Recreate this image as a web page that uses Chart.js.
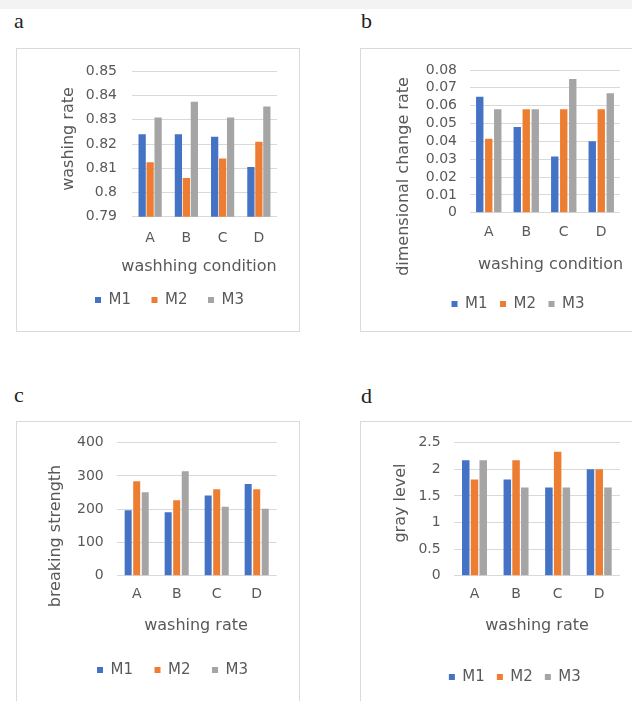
<!DOCTYPE html>
<html>
<head>
<meta charset="utf-8">
<script src="https://cdn.jsdelivr.net/npm/chart.js@4.4.0/dist/chart.umd.min.js"></script>
<style>
html, body { margin: 0; padding: 0; background: #fff; overflow: hidden; width: 632px; height: 701px; }
#strip { position: absolute; left: 0; top: 0; width: 632px; height: 9px; background: #f3f3f3; }
.frame { position: absolute; border: 1px solid #d9d9d9; box-sizing: border-box; }
.tag { position: absolute; font-family: "Liberation Serif", serif; font-size: 22px; line-height: 22px; color: #222; }
canvas { position: absolute; }
</style>
</head>
<body>
<div id="strip"></div>
<div class="tag" style="left:14px;top:10px">a</div>
<div class="tag" style="left:361px;top:10px">b</div>
<div class="tag" style="left:14px;top:384px">c</div>
<div class="tag" style="left:361px;top:385px">d</div>
<div class="frame" style="left:16px;top:48px;width:284px;height:284px"></div>
<div class="frame" style="left:360px;top:48px;width:320px;height:284px"></div>
<div class="frame" style="left:16px;top:421px;width:284px;height:300px"></div>
<div class="frame" style="left:360px;top:421px;width:320px;height:300px"></div>
<canvas id="chartA"></canvas>
<canvas id="chartB"></canvas>
<canvas id="chartC"></canvas>
<canvas id="chartD"></canvas>
<script>
var categories = ['A', 'B', 'C', 'D'];
var seriesNames = ['M1', 'M2', 'M3'];
var seriesColors = ['#4472C4', '#ED7D31', '#A5A5A5'];

// a - washing rate
var rateM1 = [0.824, 0.824, 0.823, 0.8105];
var rateM2 = [0.8125, 0.806, 0.814, 0.821];
var rateM3 = [0.831, 0.8375, 0.831, 0.8355];
var rateAxis = [0.79, 0.85, 0.01]; // min, max, step

// b - dimensional change rate
var dimM1 = [0.065, 0.048, 0.0315, 0.040];
var dimM2 = [0.0415, 0.058, 0.058, 0.058];
var dimM3 = [0.058, 0.058, 0.075, 0.067];
var dimAxis = [0, 0.08, 0.01];

// c - breaking strength
var strengthM1 = [197, 191, 241, 276];
var strengthM2 = [284, 227, 260, 260];
var strengthM3 = [251, 314, 207, 201];
var strengthAxis = [0, 400, 100];

// d - gray level
var grayM1 = [2.17, 1.81, 1.66, 2.0];
var grayM2 = [1.81, 2.17, 2.33, 2.0];
var grayM3 = [2.17, 1.66, 1.66, 1.66];
var grayAxis = [0, 2.5, 0.5];

var textColor = '#595959';
var fontFamily = '"DejaVu Sans", sans-serif';
Chart.defaults.font.family = fontFamily;

// axis titles are drawn at fixed spots, like the excel charts
var axisTitles = {
	id: 'axisTitles',
	afterDraw: function(chart, args, o) {
		var ctx = chart.ctx;
		ctx.save();
		ctx.fillStyle = textColor;
		ctx.font = '16px ' + fontFamily;
		ctx.textAlign = 'center';
		ctx.textBaseline = 'middle';
		ctx.fillText(o.xText, o.xPos[0], o.xPos[1]);
		ctx.translate(o.yPos[0], o.yPos[1]);
		ctx.rotate(-Math.PI / 2);
		ctx.fillText(o.yText, 0, 0);
		ctx.restore();
	}
};

function panel(id, values, axis, p) {
	var el = document.getElementById(id);
	var bx = p.box[0], by = p.box[1], bw = p.box[2], bh = p.box[3];
	el.style.left = bx + 'px';
	el.style.top = by + 'px';
	el.width = bw;
	el.height = bh;

	var fs = 15, lp = p.legendPad;
	var pl = 2 * p.legend[0] - bx - p.plot[2];
	var pr = bx + bw - p.plot[2];
	var yW = p.plot[0] - bx - pl;
	if (yW < 44) { // keep room for the tick labels
		pl -= 44 - yW;
		yW = 44;
	}
	var pt = p.plot[1] - by;
	var legTop = p.legend[1] - lp - fs / 2;
	var pb = by + bh - legTop - (fs + lp + 10);
	var xH = legTop - p.plot[3];

	var datasets = values.map(function(v, i) {
		return {
			label: seriesNames[i],
			data: v,
			backgroundColor: seriesColors[i],
			borderWidth: 0,
			barPercentage: p.barPct,
			categoryPercentage: p.catPct
		};
	});

	new Chart(el, {
		type: 'bar',
		data: { labels: categories, datasets: datasets },
		options: {
			responsive: false,
			animation: false,
			layout: { padding: { left: pl, right: pr, top: pt, bottom: pb } },
			scales: {
				x: {
					grid: { display: false, drawTicks: false },
					border: { display: false },
					ticks: { padding: p.xTickPad, color: textColor, font: { size: 14 } },
					afterFit: function(s) { s.height = xH; }
				},
				y: {
					min: axis[0],
					max: axis[1],
					grid: { color: '#d9d9d9', drawTicks: false },
					border: { display: false },
					ticks: {
						stepSize: axis[2],
						autoSkip: false,
						padding: p.yTickPad,
						color: textColor,
						font: { size: 14 },
						callback: function(v) { return String(+v.toFixed(3)); }
					},
					afterFit: function(s) { s.width = yW; }
				}
			},
			plugins: {
				legend: {
					position: 'bottom',
					labels: { boxWidth: 6, boxHeight: 6, padding: lp, color: textColor, font: { size: fs } }
				},
				tooltip: { enabled: false },
				axisTitles: {
					xText: p.xTitle,
					yText: p.yTitle,
					xPos: [p.xTitlePos[0] - bx, p.xTitlePos[1] - by],
					yPos: [p.yTitlePos[0] - bx, p.yTitlePos[1] - by]
				}
			}
		},
		plugins: [axisTitles]
	});
}

panel('chartA', [rateM1, rateM2, rateM3], rateAxis, {
	box: [16, 48, 284, 283], plot: [132, 69.3, 277, 216.7],
	legend: [169.5, 300], legendPad: 20.5,
	barPct: 0.91, catPct: 0.66, yTickPad: 15, xTickPad: 12.9,
	xTitle: 'washhing condition', xTitlePos: [199, 267],
	yTitle: 'washing rate', yTitlePos: [69, 139]
});

panel('chartB', [dimM1, dimM2, dimM3], dimAxis, {
	box: [360, 48, 316, 283], plot: [470, 70, 620, 212.7],
	legend: [518, 304], legendPad: 12.5,
	barPct: 0.82, catPct: 0.72, yTickPad: 13, xTickPad: 11.6,
	xTitle: 'washing condition', xTitlePos: [550.5, 265],
	yTitle: 'dimensional change rate', yTitlePos: [404, 176.5]
});

panel('chartC', [strengthM1, strengthM2, strengthM3], strengthAxis, {
	box: [16, 421, 284, 300], plot: [116.7, 442.7, 276.7, 575.7],
	legend: [172.5, 670], legendPad: 21.5,
	barPct: 0.82, catPct: 0.64, yTickPad: 13, xTickPad: 9.9,
	xTitle: 'washing rate', xTitlePos: [196, 626],
	yTitle: 'breaking strength', yTitlePos: [56, 536]
});

panel('chartD', [grayM1, grayM2, grayM3], grayAxis, {
	box: [360, 421, 316, 300], plot: [453.7, 442.7, 620, 575.7],
	legend: [520.5, 677], legendPad: 12,
	barPct: 0.86, catPct: 0.63, yTickPad: 13, xTickPad: 9.9,
	xTitle: 'washing rate', xTitlePos: [537, 626],
	yTitle: 'gray level', yTitlePos: [401, 503]
});
</script>
</body>
</html>
